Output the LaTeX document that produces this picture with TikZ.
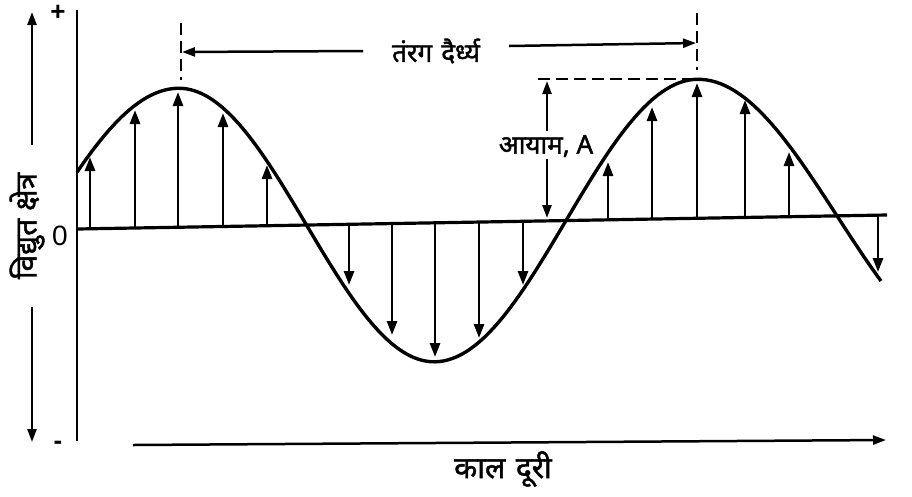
\documentclass[tikz,border=0pt]{standalone}
\usepackage{fontspec}
\setmainfont{Liberation Sans}
\newfontfamily\deva[Script=Devanagari, FakeBold=1.5]{Noto Sans}
\usetikzlibrary{arrows.meta}
\begin{document}
\begin{tikzpicture}[x=1pt,y=-1pt,
  axis/.style={line width=3.2pt},
  vaxis/.style={line width=2.4pt},
  wave/.style={line width=3.4pt, line join=round},
  field/.style={line width=2.8pt, -{Triangle[length=14pt,width=10pt]}},
  dim/.style={line width=2.5pt, -{Triangle[length=13pt,width=9pt]}},
  guide/.style={line width=2.8pt, dash pattern=on 12pt off 6pt},
  lbl/.style={font=\deva\fontsize{26}{30}\selectfont, inner sep=0pt},
  biglbl/.style={font=\deva\fontsize{30}{34}\selectfont, inner sep=0pt},
  num/.style={font=\fontsize{28}{30}\selectfont, inner sep=0pt},
  sign/.style={font=\bfseries\fontsize{26}{30}\selectfont, inner sep=0pt,
               text height=16pt, text depth=0pt}]
\useasboundingbox (0,0) rectangle (912,496);

% axes
\coordinate (o1) at (77,10);
\coordinate (o2) at (77,441);
\coordinate (b0) at (77,229);
\coordinate (b1) at (887,215);
\draw[vaxis] (o1) -- (o2);
\draw[axis] (b0) -- (b1);

% wave
\draw[wave]
  plot[domain=77:178, samples=30] (\x, {229-(\x-77)/810*14 - 139*cos((178-\x)/138*90)})
  -- plot[domain=178:435, samples=60] (\x, {229-(\x-77)/810*14 - 139*cos((\x-178)/257*180)})
  -- plot[domain=435:697, samples=60] (\x, {229-(\x-77)/810*14 + 139*cos((\x-435)/262*180)})
  -- plot[domain=697:881, samples=40] (\x, {229-(\x-77)/810*14 - 139*cos((\x-697)/140*90)});

% field arrows
\foreach \px/\ty in {90/157,135/110,178/92,223/113,267/165,
                     349/285,392/335,435/357,479/338,523/285,
                     608/162,652/107,697/83,745/100,789/152,878/272}{
  \coordinate (fb\px) at (\px,{229-(\px-77)/810*14});
  \coordinate (ft\px) at (\px,\ty);
  \draw[field] (fb\px) -- (ft\px);
}

% wavelength
\coordinate (dLtop) at (181,23);
\coordinate (dLbot) at (181,80);
\coordinate (dRtop) at (697,13);
\coordinate (dRbot) at (697,70);
\draw[guide] (dLtop) -- (dLbot);
\draw[guide] (dRtop) -- (dRbot);
\node[lbl] (wl) at (436,51) {तंरग\hspace{0.35em}दैर्ध्य};
\coordinate (wlA) at (363,51);
\coordinate (wlB) at (509,46);
\coordinate (wlTL) at (182,52);
\coordinate (wlTR) at (696,43);
\draw[dim] (wlA) -- (wlTL);
\draw[dim] (wlB) -- (wlTR);

% amplitude
\coordinate (hd1) at (538,79);
\coordinate (hd2) at (690,79);
\draw[guide] (hd1) -- (hd2);
\node[lbl] (amp) at (546,146) {आयाम, A};
\coordinate (ampA) at (547,131);
\coordinate (ampB) at (547,159);
\coordinate (ampT) at (547,81);
\coordinate (ampD) at (547,218);
\draw[dim] (ampA) -- (ampT);
\draw[dim] (ampB) -- (ampD);

% y label
\node[biglbl, rotate=90] (ylab) at (27,226) {विद्युत क्षेत्र};
\coordinate (yUa) at (32,145);
\coordinate (yUt) at (32,12);
\coordinate (yDa) at (32,307);
\coordinate (yDt) at (32,442);
\draw[dim] (yUa) -- (yUt);
\draw[dim] (yDa) -- (yDt);
\node[num] (zero) at (60,236) {0};
\node[sign] (plus) at (58,12) {+};
\node[sign] (minus) at (58,441) {-};

% x label
\coordinate (xa) at (133,445);
\coordinate (xt) at (886,440);
\draw[dim] (xa) -- (xt);
\node[biglbl] (xlab) at (503,469) {काल\hspace{0.35em}दूरी};
\end{tikzpicture}
\end{document}
